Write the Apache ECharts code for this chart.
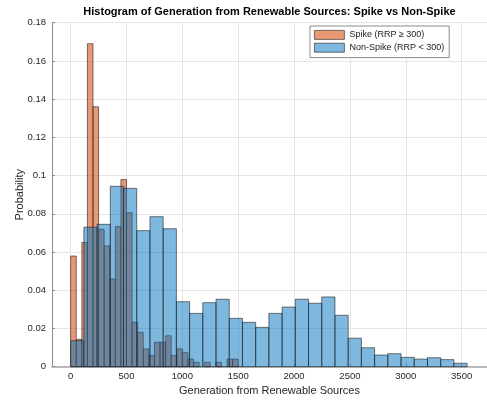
<!DOCTYPE html>
<html>
<head>
<meta charset="utf-8">
<title>Histogram of Generation from Renewable Sources</title>
<script src="https://cdn.jsdelivr.net/npm/echarts@6/dist/echarts.min.js"></script>
<style>
  html, body { margin: 0; padding: 0; background: #fff; }
  #chart { width: 487px; height: 400px; }
</style>
</head>
<body>
<div id="chart"></div>
<script>
// bin layout (units of generation)
var spikeBinStart = 0;
var spikeBinWidth = 50;
var nonSpikeBinStart = 0;
var nonSpikeBinWidth = 118.3;

// probability per bin
var spikeProb = [
  0.0579, 0.0143, 0.065, 0.169, 0.136, 0.0719, 0.0632, 0.0459, 0.0733, 0.0979,
  0.0806, 0.0232, 0.018, 0.0093, 0.0058, 0.0128, 0.0128, 0.0162, 0.0058, 0.0093,
  0.0075, 0.004, 0.0023, 0, 0.0023, 0, 0.0023, 0, 0.004, 0.004
];
var nonSpikeProb = [
  0.0136, 0.073, 0.0745, 0.0944, 0.0933, 0.0712, 0.0785, 0.0722, 0.034, 0.0279,
  0.0335, 0.0353, 0.0253, 0.0232, 0.0206, 0.0279, 0.0312, 0.0353, 0.0332, 0.0365,
  0.0269, 0.0149, 0.0099, 0.0061, 0.0068, 0.0049, 0.004, 0.0047, 0.0037, 0.0018
];

var xTicks = [0, 500, 1000, 1500, 2000, 2500, 3000, 3500];
var seriesNames = ['Spike (RRP \u2265 300)', 'Non-Spike (RRP < 300)'];

var spikeFill = 'rgba(217,83,25,0.6)';
var nonSpikeFill = 'rgba(0,114,189,0.5)';
var edgeColor = 'rgba(30,30,30,0.75)';

function toBins(probs, start, width) {
  var out = [];
  for (var i = 0; i < probs.length; i++) {
    if (probs[i] > 0) {
      out.push([start + i * width, start + (i + 1) * width, probs[i]]);
    }
  }
  return out;
}

function makeRender(fill) {
  return function (params, api) {
    var p0 = api.coord([api.value(0), api.value(2)]);
    var p1 = api.coord([api.value(1), 0]);
    return {
      type: 'rect',
      shape: { x: p0[0], y: p0[1], width: p1[0] - p0[0], height: p1[1] - p0[1] },
      style: { fill: fill, stroke: edgeColor, lineWidth: 0.8 }
    };
  };
}

var font = 'Liberation Sans, Helvetica, Arial, sans-serif';
var voChart = echarts.init(document.getElementById('chart'), null, { renderer: 'canvas' });

var voOption = {
  animation: false,
  textStyle: { fontFamily: font },
  title: {
    text: 'Histogram of Generation from Renewable Sources: Spike vs Non-Spike',
    left: 269.5,
    textAlign: 'center',
    top: 6,
    padding: 0,
    textStyle: { fontSize: 11, fontWeight: 'bold', color: '#000', fontFamily: font }
  },
  legend: {
    orient: 'vertical',
    left: 310,
    top: 26,
    padding: [4, 5, 5, 4],
    itemWidth: 30,
    itemHeight: 9,
    itemGap: 3,
    borderColor: '#8c8c8c',
    borderWidth: 1,
    backgroundColor: '#fff',
    textStyle: { fontSize: 9, color: '#222', fontFamily: font },
    data: [
      { name: seriesNames[0], icon: 'rect', itemStyle: { color: spikeFill, borderColor: edgeColor, borderWidth: 0.8 } },
      { name: seriesNames[1], icon: 'rect', itemStyle: { color: nonSpikeFill, borderColor: edgeColor, borderWidth: 0.8 } }
    ]
  },
  grid: { left: 52, right: 0, top: 22.7, bottom: 33.3, containLabel: false, outerBoundsMode: 'none' },
  xAxis: {
    type: 'value',
    min: -167,
    max: 3727,
    name: 'Generation from Renewable Sources',
    nameLocation: 'middle',
    nameGap: 18.5,
    nameMoveOverlap: false,
    nameTextStyle: { fontSize: 11, color: '#262626' },
    axisLine: { show: true, onZero: false, lineStyle: { color: '#a6a6a6', width: 1.5 } },
    axisTick: { show: true, inside: true, length: 3, customValues: xTicks, lineStyle: { color: '#a6a6a6' } },
    axisLabel: {
      customValues: xTicks, fontSize: 9.5, color: '#262626', margin: 4.5,
      formatter: function (v) { return String(v); }
    },
    splitLine: { show: true, lineStyle: { color: '#e6e6e6', width: 1 } }
  },
  yAxis: {
    type: 'value',
    min: 0,
    max: 0.18,
    interval: 0.02,
    name: 'Probability',
    nameLocation: 'middle',
    nameGap: 27,
    nameMoveOverlap: false,
    nameTextStyle: { fontSize: 11, color: '#262626' },
    axisLine: { show: true, onZero: false, lineStyle: { color: '#8c8c8c', width: 1 } },
    axisTick: { show: true, inside: true, length: 3, lineStyle: { color: '#8c8c8c' } },
    axisLabel: {
      fontSize: 9.5, color: '#262626', margin: 6,
      formatter: function (v) { return String(+v.toFixed(2)); }
    },
    splitLine: { show: true, lineStyle: { color: '#e6e6e6', width: 1 } }
  },
  series: [
    {
      name: seriesNames[0],
      type: 'custom',
      renderItem: makeRender(spikeFill),
      itemStyle: { color: spikeFill },
      encode: { x: [0, 1], y: 2 },
      data: toBins(spikeProb, spikeBinStart, spikeBinWidth)
    },
    {
      name: seriesNames[1],
      type: 'custom',
      renderItem: makeRender(nonSpikeFill),
      itemStyle: { color: nonSpikeFill },
      encode: { x: [0, 1], y: 2 },
      data: toBins(nonSpikeProb, nonSpikeBinStart, nonSpikeBinWidth)
    }
  ]
};

voChart.setOption(voOption);
</script>
</body>
</html>
